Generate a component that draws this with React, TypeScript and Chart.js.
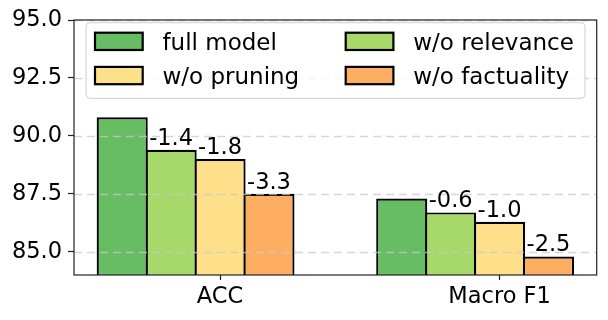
import React, { useEffect, useRef } from "react";
import { Chart, registerables } from "chart.js";

Chart.register(...registerables);

// ---- data ----
const categories = ["ACC", "Macro F1"];
const seriesNames = ["full model", "w/o relevance", "w/o pruning", "w/o factuality"];
const fullModel = [90.8, 87.3];
const woRelevance = [89.4, 86.7];
const woPruning = [89.0, 86.3];
const woFactuality = [87.5, 84.8];
const seriesColors = ["#66bd63", "#a6d96a", "#fee08b", "#fdae61"];
const yTicks = [85, 87.5, 90, 92.5, 95];
const yMin = 84;
const yMax = 95;

const seriesValues = [fullModel, woRelevance, woPruning, woFactuality];

// bar layout (matplotlib-style: bar width in category units, 5% margins)
const barW = 0.175;
const offsets = seriesValues.map((_, i) => (i - 2) * barW);
const dataLo = offsets[0] - barW / 2;
const dataHi = categories.length - 1 + offsets[offsets.length - 1] + barW / 2;
const margin = (dataHi - dataLo) * 0.05;
const xMin = dataLo - margin;
const xMax = dataHi + margin;

const FONT = "'DejaVu Sans', sans-serif";

const overlayPlugin = {
  id: "overlay",
  afterDatasetsDraw(chart: any) {
    const { ctx, chartArea: a } = chart;
    const ys = chart.scales.y;
    ctx.save();
    // dashed grid drawn over bars
    ctx.strokeStyle = "rgba(200,200,200,0.75)";
    ctx.lineWidth = 1.5;
    ctx.setLineDash([8, 5]);
    yTicks.forEach((v) => {
      const py = Math.round(ys.getPixelForValue(v)) + 0.5;
      ctx.beginPath();
      ctx.moveTo(a.left, py);
      ctx.lineTo(a.right, py);
      ctx.stroke();
    });
    ctx.setLineDash([]);
    // bar labels (difference to full model)
    ctx.fillStyle = "#000";
    ctx.font = `22.5px ${FONT}`;
    ctx.textAlign = "center";
    ctx.textBaseline = "alphabetic";
    for (let d = 1; d < seriesValues.length; d++) {
      const meta = chart.getDatasetMeta(d);
      meta.data.forEach((bar: any, c: number) => {
        const diff = (seriesValues[d][c] - seriesValues[0][c]).toFixed(1);
        ctx.fillText(diff, bar.x, bar.y - 5);
      });
    }
    // spines
    ctx.strokeStyle = "#222";
    ctx.lineWidth = 1.2;
    ctx.strokeRect(a.left, a.top, a.right - a.left, a.bottom - a.top);
    ctx.restore();
  },
  afterDraw(chart: any) {
    const { ctx, chartArea: a } = chart;
    const left = a.left + 12;
    const top = a.top + 2.7;
    const right = a.right - 11.7;
    const bottom = top + 75.6;
    ctx.save();
    ctx.beginPath();
    const r = 4;
    ctx.moveTo(left + r, top);
    ctx.lineTo(right - r, top);
    ctx.arcTo(right, top, right, top + r, r);
    ctx.lineTo(right, bottom - r);
    ctx.arcTo(right, bottom, right - r, bottom, r);
    ctx.lineTo(left + r, bottom);
    ctx.arcTo(left, bottom, left, bottom - r, r);
    ctx.lineTo(left, top + r);
    ctx.arcTo(left, top, left + r, top, r);
    ctx.closePath();
    ctx.fillStyle = "rgba(255,255,255,0.8)";
    ctx.fill();
    ctx.strokeStyle = "rgba(204,204,204,1)";
    ctx.lineWidth = 1;
    ctx.stroke();

    ctx.font = `23px ${FONT}`;
    ctx.textAlign = "left";
    ctx.textBaseline = "alphabetic";
    chart.data.datasets.forEach((ds: any, i: number) => {
      const col = i % 2;
      const row = Math.floor(i / 2);
      const px = left + (col === 0 ? 9 : 259.7);
      const py = top + 10 + row * 34.2;
      ctx.fillStyle = ds.backgroundColor;
      ctx.fillRect(px, py, 47.7, 17.3);
      ctx.strokeStyle = "#000";
      ctx.lineWidth = 2.2;
      ctx.strokeRect(px, py, 47.7, 17.3);
      ctx.fillStyle = "#000";
      ctx.fillText(ds.label, px + 67.5, py + 17.5);
    });
    ctx.restore();
  },
};

export default function App() {
  const ref = useRef<HTMLCanvasElement | null>(null);
  useEffect(() => {
    document.body.style.margin = "0";
    if (!ref.current) return;
    const chart = new Chart(ref.current, {
      type: "bar",
      data: {
        datasets: seriesValues.map((vals, i) => ({
          label: seriesNames[i],
          data: vals.map((v, c) => ({ x: c + offsets[i], y: v })),
          backgroundColor: seriesColors[i],
          borderColor: "#000",
          borderWidth: 2.2,
          inflateAmount: 0,
          grouped: false,
          barPercentage: 1.045,
          categoryPercentage: 1,
        })),
      },
      options: {
        animation: false,
        responsive: true,
        maintainAspectRatio: false,
        layout: { padding: { top: 20, right: 11.3, left: 0, bottom: 0 } },
        plugins: { legend: { display: false }, tooltip: { enabled: false } },
        scales: {
          x: {
            type: "linear",
            min: xMin,
            max: xMax,
            offset: false,
            afterBuildTicks: (s: any) => {
              s.ticks = categories.map((_, i) => ({ value: i }));
            },
            afterFit: (s: any) => {
              s.height = 45;
            },
            grid: {
              offset: false,
              drawOnChartArea: false,
              tickLength: 5,
              tickColor: "#222",
              tickWidth: 1.2,
            },
            border: { display: false },
            ticks: {
              color: "#000",
              font: { family: FONT, size: 22.5 },
              padding: 4,
              maxRotation: 0,
              autoSkip: false,
              callback: (_v: any, i: number) => categories[i],
            },
          },
          y: {
            type: "linear",
            min: yMin,
            max: yMax,
            beginAtZero: false,
            afterBuildTicks: (s: any) => {
              s.ticks = yTicks.map((v) => ({ value: v }));
            },
            afterFit: (s: any) => {
              s.width = 74;
            },
            grid: {
              drawOnChartArea: false,
              tickLength: 6,
              tickColor: "#222",
              tickWidth: 1.2,
            },
            border: { display: false },
            ticks: {
              color: "#000",
              font: { family: FONT, size: 22.5 },
              padding: 6,
              callback: (v: any) => Number(v).toFixed(1),
            },
          },
        },
      },
      plugins: [overlayPlugin],
    });
    return () => chart.destroy();
  }, []);
  return (
    <div style={{ width: 608, height: 320, position: "relative" }}>
      <canvas ref={ref} />
    </div>
  );
}
